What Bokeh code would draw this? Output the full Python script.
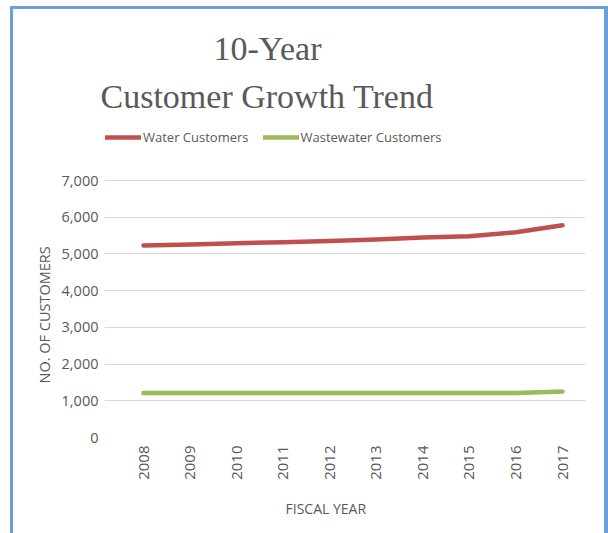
import math
from bokeh.plotting import figure
from bokeh.models import (Range1d, NumeralTickFormatter, FixedTicker,
                          Legend, LegendItem, Title)
from bokeh.embed import file_html
from bokeh.resources import INLINE

years = ["2008", "2009", "2010", "2011", "2012", "2013", "2014", "2015", "2016", "2017"]
water_customers = [5230, 5260, 5290, 5320, 5350, 5390, 5450, 5480, 5590, 5780]
wastewater_customers = [1210, 1210, 1210, 1210, 1210, 1210, 1210, 1210, 1215, 1250]
y_ticks = [0, 1000, 2000, 3000, 4000, 5000, 6000, 7000]

TEXT = "#595959"
SANS = "Open Sans"
BORDER = "#6b9fd9"

x_vals = [int(y) for y in years]

# layout (canvas pixels)
W, H = 608, 533
F_LEFT, F_RIGHT, F_TOP, F_BOTTOM = 104, 585, 123, 437
Y7000_PX = 180           # pixel row of the 7,000 gridline
X_FIRST_PX, X_LAST_PX = 143, 562

px_per_year = (X_LAST_PX - X_FIRST_PX) / (x_vals[-1] - x_vals[0])
x_start = x_vals[0] - (X_FIRST_PX - F_LEFT) / px_per_year
x_end = x_vals[-1] + (F_RIGHT - X_LAST_PX) / px_per_year
y_end = y_ticks[-1] * (F_BOTTOM - F_TOP) / (F_BOTTOM - Y7000_PX)

p = figure(width=W, height=H, x_range=Range1d(x_start, x_end), y_range=Range1d(0, y_end),
           output_backend="svg", toolbar_location=None, title_location=None,
           min_border_left=F_LEFT, min_border_right=W - F_RIGHT,
           min_border_top=F_TOP, min_border_bottom=H - F_BOTTOM)
p.border_fill_color = None
p.background_fill_color = None
p.outline_line_color = None
p.styles = {"box-shadow": f"inset 10px 6px 0 #ffffff, inset 13px 9px 0 {BORDER}, inset -4px 0 0 {BORDER}"}

r1 = p.line(x_vals, water_customers, line_color="#C0504D", line_width=4.5, line_cap="round", line_join="round")
r2 = p.line(x_vals, wastewater_customers, line_color="#9BBB59", line_width=4.5, line_cap="round", line_join="round")

# grid
p.xgrid.grid_line_color = None
p.ygrid.grid_line_color = "#d9d9d9"
p.ygrid.grid_line_width = 1
p.ygrid.ticker = FixedTicker(ticks=y_ticks)

# y axis
ya = p.yaxis[0]
ya.ticker = FixedTicker(ticks=y_ticks)
ya.formatter = NumeralTickFormatter(format="0,0")
ya.axis_line_color = None
ya.major_tick_line_color = None
ya.minor_tick_line_color = None
ya.major_label_standoff = 0
ya.major_label_text_font = SANS
ya.major_label_text_font_size = "14.5px"
ya.major_label_text_color = TEXT

# x axis
xa = p.xaxis[0]
xa.ticker = FixedTicker(ticks=x_vals)
xa.major_label_overrides = {v: s for v, s in zip(x_vals, years)}
xa.axis_line_color = None
xa.major_tick_line_color = None
xa.minor_tick_line_color = None
xa.major_label_orientation = math.pi / 2
xa.major_label_standoff = 2
xa.major_label_text_font = SANS
xa.major_label_text_font_size = "15px"
xa.major_label_text_color = TEXT

legend = Legend(items=[LegendItem(label="Water Customers", renderers=[r1]),
                       LegendItem(label="Wastewater Customers", renderers=[r2])],
                orientation="horizontal", location=(1, 291), glyph_width=36, glyph_height=14,
                label_height=14, label_standoff=2, spacing=14, padding=0, margin=0,
                border_line_color=None, background_fill_alpha=0,
                label_text_font=SANS, label_text_font_size="13px", label_text_color=TEXT)
p.add_layout(legend, "center")

t2 = Title(text="Customer Growth Trend", align="left", offset=100 - F_LEFT, standoff=18,
           text_font="Liberation Serif", text_font_size="34px", text_font_style="normal",
           text_color=TEXT)
p.add_layout(t2, "above")
t1 = Title(text="10-Year", align="left", offset=213 - F_LEFT, standoff=0,
           text_font="Liberation Serif", text_font_size="34px", text_font_style="normal",
           text_color=TEXT)
p.add_layout(t1, "above")

yl = Title(text="NO. OF CUSTOMERS", align="left", offset=54, text_font=SANS,
           text_font_size="14.5px", text_font_style="normal", text_color=TEXT)
p.add_layout(yl, "left")

xl = Title(text="FISCAL YEAR", align="left", offset=285 - F_LEFT, standoff=29, text_font=SANS,
           text_font_size="14px", text_font_style="normal", text_color=TEXT)
p.add_layout(xl, "below")

open("out.html", "w").write(file_html(p, INLINE))
